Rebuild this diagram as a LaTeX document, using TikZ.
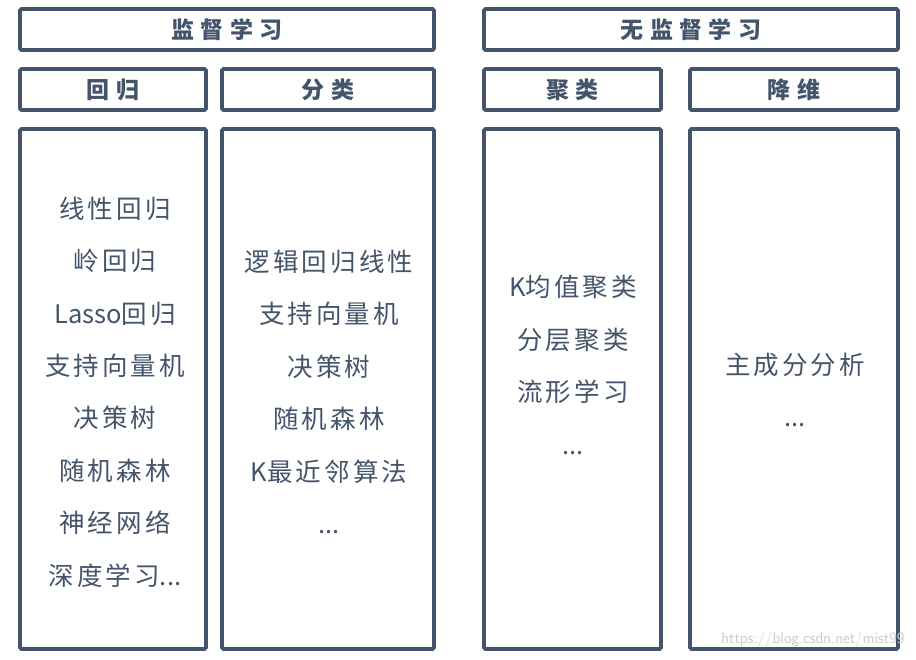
\documentclass[tikz,border=0pt]{standalone}
\usepackage{fontspec}
\newfontfamily\cjk[LetterSpace=12]{Noto Sans CJK SC}
\newfontfamily\lat{Noto Sans CJK SC}
\newfontfamily\cjkhead[LetterSpace=28]{Noto Sans CJK SC}
\definecolor{slate}{HTML}{44546A}
\begin{document}
\begin{tikzpicture}[x=1pt,y=-1pt,
  box/.style={draw=slate, line width=3.6pt, rounded corners=1.5pt, fill=white},
  headtxt/.style={text=slate, font=\cjkhead\bfseries\fontsize{23}{26}\selectfont},
  listtxt/.style={text=slate, align=center, font=\cjk\fontsize{25.5}{52.4}\selectfont}]
\useasboundingbox[fill=white] (0,0) rectangle (916,659);
% top headers
\draw[box] (20,9) rectangle (434,50);
\node[headtxt] (sup) at (227,29.5) {监督学习};
\draw[box] (484,9) rectangle (898,50);
\node[headtxt] (unsup) at (691,29.5) {无监督学习};
% sub headers
\draw[box] (20,69) rectangle (206,110);
\node[headtxt] (reg) at (113,89.5) {回归};
\draw[box] (222,69) rectangle (434,110);
\node[headtxt] (cls) at (328,89.5) {分类};
\draw[box] (484,69) rectangle (661,110);
\node[headtxt] (clu) at (572.5,89.5) {聚类};
\draw[box] (690,69) rectangle (898,110);
\node[headtxt] (dim) at (794,89.5) {降维};
% content boxes
\draw[box] (20,129) rectangle (206,649);
\draw[box] (222,129) rectangle (434,649);
\draw[box] (484,129) rectangle (661,649);
\draw[box] (690,129) rectangle (898,649);
\node[listtxt] (l1) at (115,392) {线性回归\\岭回归\\{\lat Lasso}回归\\支持向量机\\决策树\\随机森林\\神经网络\\深度学习{\lat ...}};
\node[listtxt] (l2) at (329,392) {逻辑回归线性\\支持向量机\\决策树\\随机森林\\{\lat K}最近邻算法\\{\lat ...}};
\node[listtxt] (l3) at (573,365) {{\lat K}均值聚类\\分层聚类\\流形学习\\{\lat ...}};
\node[listtxt] (l4) at (795,390) {主成分分析\\{\lat ...}};
% watermark
\node[text=black!20, font=\sffamily\fontsize{16}{18}\selectfont, anchor=east] (wm) at (908,639) {https://blog.csdn.net/mist99};
\end{tikzpicture}
\end{document}
